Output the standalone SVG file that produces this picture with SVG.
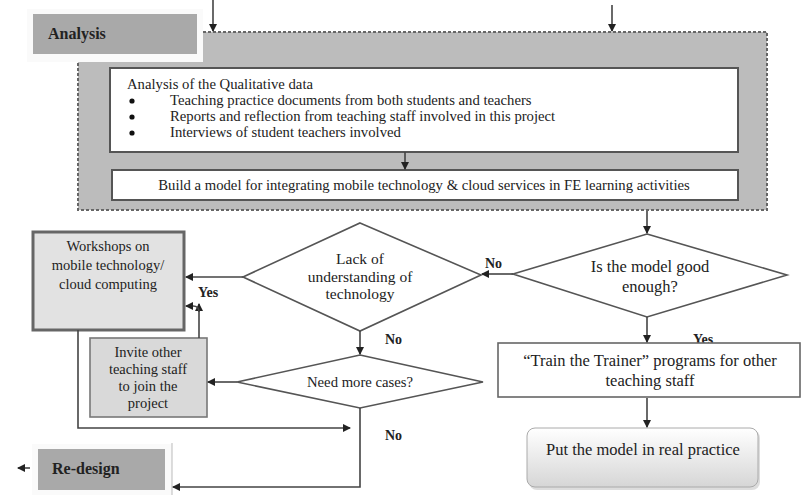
<svg xmlns="http://www.w3.org/2000/svg" width="801" height="495" viewBox="0 0 801 495">
<style>
text{font-family:"Liberation Serif","Times New Roman",serif;font-size:14.7px;fill:#222}
.c{text-anchor:middle}
.b{font-weight:bold;font-size:14px}
.h{font-weight:bold;font-size:16px}
.m{font-size:14.5px}
.l{font-size:16.5px}
.ln{fill:none;stroke:#444;stroke-width:1.6}
.box{fill:#fff;stroke:#555;stroke-width:2}
.dia{fill:#fff;stroke:#555;stroke-width:1.6}
.gbox{fill:#e2e2e2;stroke:#666;stroke-width:3}
</style>
<defs>
<marker id="ah" markerWidth="8" markerHeight="8" refX="7" refY="4" orient="auto" markerUnits="userSpaceOnUse">
<path d="M0,0 L8,4 L0,8 Z" fill="#222"/>
</marker>
<linearGradient id="pg" x1="0" y1="0" x2="0" y2="1">
<stop offset="0" stop-color="#ffffff"/>
<stop offset="1" stop-color="#d6d6d6"/>
</linearGradient>
</defs>

<g id="container">
<rect x="78" y="32" width="689" height="178" fill="#bcbcbc" stroke="#666" stroke-width="2" stroke-dasharray="3,2"/>
</g>

<g id="analysis-label">
<rect x="27" y="9" width="176" height="53" fill="#fafafa"/>
<rect x="33" y="14" width="164" height="40" fill="#a9a9a9"/>
<text x="48" y="39" class="h">Analysis</text>
</g>

<g id="qualitative">
<rect x="110" y="68" width="628" height="84" class="box"/>
<text x="127" y="89">Analysis of the Qualitative data</text>
<circle cx="132" cy="101" r="2.6" fill="#111"/>
<circle cx="132" cy="117" r="2.6" fill="#111"/>
<circle cx="132" cy="133" r="2.6" fill="#111"/>
<text x="170" y="105">Teaching practice documents from both students and teachers</text>
<text x="170" y="121">Reports and reflection from teaching staff involved in this project</text>
<text x="170" y="137">Interviews of student teachers involved</text>
</g>

<g id="build-model">
<rect x="112" y="170" width="626" height="30" class="box"/>
<text x="424" y="190" class="c">Build a model for integrating mobile technology &amp; cloud services in FE learning activities</text>
</g>

<g id="labels">
<text x="485" y="268" class="b">No</text>
<text x="198" y="297" class="b">Yes</text>
<text x="385" y="344" class="b">No</text>
<text x="385" y="440" class="b">No</text>
<text x="693" y="344" class="b">Yes</text>
</g>

<g id="good-enough">
<polygon points="647,234 787,275 647,317 513,274" class="dia"/>
<text x="650" y="272" class="c l">Is the model good</text>
<text x="650" y="292" class="c l">enough?</text>
</g>

<g id="lack">
<polygon points="360,223 481,275 360,331 243,277" class="dia"/>
<text x="360" y="264" class="c" style="font-size:15.5px">Lack of</text>
<text x="360" y="282" class="c" style="font-size:15.5px">understanding of</text>
<text x="360" y="299" class="c" style="font-size:15.5px">technology</text>
</g>

<g id="workshops">
<rect x="33" y="232" width="151" height="98" class="gbox"/>
<text x="108" y="251" class="c m">Workshops on</text>
<text x="108" y="270" class="c m">mobile technology/</text>
<text x="108" y="289" class="c m">cloud computing</text>
</g>

<g id="invite">
<rect x="90" y="338" width="117" height="79" fill="#d9d9d9" stroke="#777" stroke-width="1.6"/>
<text x="148" y="357" class="c m">Invite other</text>
<text x="148" y="374" class="c m">teaching staff</text>
<text x="148" y="391" class="c m">to join the</text>
<text x="148" y="408" class="c m">project</text>
</g>

<g id="need-cases">
<polygon points="360,355 483,382 360,408 237,382" class="dia"/>
<text x="360" y="387" class="c">Need more cases?</text>
</g>

<g id="train">
<rect x="498" y="343" width="302" height="54" fill="#fff" stroke="#666" stroke-width="1.6"/>
<text x="650" y="366" class="c l">“Train the Trainer” programs for other</text>
<text x="650" y="386" class="c l">teaching staff</text>
</g>

<g id="practice">
<rect x="529" y="430" width="231" height="60" rx="8" fill="#bbb" opacity="0.5"/>
<rect x="527" y="428" width="231" height="59" rx="8" fill="url(#pg)" stroke="#aaa" stroke-width="1"/>
<text x="643" y="455" class="c l">Put the model in real practice</text>
</g>

<g id="redesign">
<rect x="32" y="444" width="140" height="51" fill="#fafafa"/>
<line x1="172" y1="443" x2="172" y2="495" stroke="#bbb" stroke-width="1"/>
<rect x="38" y="449" width="127" height="41" fill="#a9a9a9"/>
<text x="52" y="474" class="h">Re-design</text>
</g>

<g id="connectors">
<line x1="213" y1="0" x2="213" y2="31" class="ln" marker-end="url(#ah)"/>
<line x1="612" y1="5" x2="612" y2="31" class="ln" marker-end="url(#ah)"/>
<line x1="405" y1="152" x2="405" y2="169" class="ln" marker-end="url(#ah)"/>
<line x1="647" y1="211" x2="647" y2="233" class="ln" marker-end="url(#ah)"/>
<line x1="513" y1="274" x2="482" y2="274" class="ln" marker-end="url(#ah)"/>
<line x1="243" y1="277" x2="186" y2="277" class="ln" marker-end="url(#ah)"/>
<path d="M199,338 V304" class="ln" marker-end="url(#ah)"/>
<path d="M199,312 Q199,306 193,306 H186" class="ln" marker-end="url(#ah)"/>
<line x1="360" y1="331" x2="360" y2="354" class="ln" marker-end="url(#ah)"/>
<line x1="237" y1="382" x2="208" y2="382" class="ln" marker-end="url(#ah)"/>
<path d="M78,330 V428 H350" class="ln" marker-end="url(#ah)"/>
<path d="M360,408 V487 H173" class="ln" marker-end="url(#ah)"/>
<line x1="30" y1="468" x2="18" y2="468" class="ln" marker-end="url(#ah)"/>
<line x1="647" y1="317" x2="647" y2="342" class="ln" marker-end="url(#ah)"/>
<line x1="647" y1="398" x2="647" y2="427" class="ln" marker-end="url(#ah)"/>
</g>
</svg>
